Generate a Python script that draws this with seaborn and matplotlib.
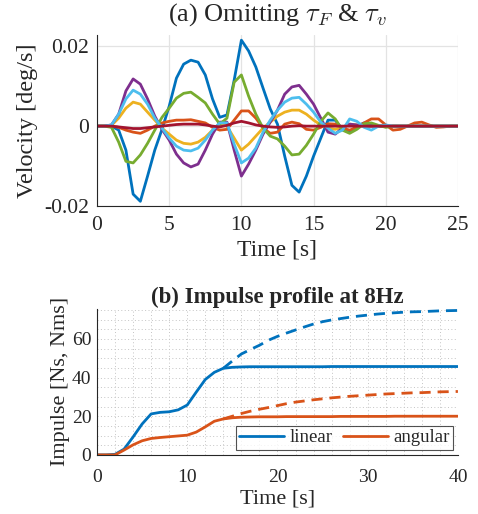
import numpy as np
import pandas as pd
import matplotlib
matplotlib.use("Agg")
import matplotlib.pyplot as plt
from matplotlib.ticker import MultipleLocator
import seaborn as sns

# ---- (a) velocity, sampled every 0.5 s from 0 to 25 s ----
t_vel = np.arange(0, 25.01, 0.5)

vel_series = {
    "blue": [0, 0, 0, -0.001, -0.006, -0.017, -0.0188, -0.0125, -0.006, -0.0008,
             0.005, 0.012, 0.0155, 0.0165, 0.016, 0.0128, 0.0068, 0.0022, 0.0028, 0.0115,
             0.0215, 0.0188, 0.0148, 0.0095, 0.0043, 0.0005, -0.0075, -0.0148, -0.0165, -0.0125,
             -0.0075, -0.003, 0.0015, 0.0015, -0.0008, -0.0015, 0.0, 0.0008, 0.0003, 0,
             0, 0, 0, 0, 0, 0, 0, 0, 0, 0, 0],
    "orange": [0, 0, 0, -0.0003, -0.001, -0.0015, -0.0018, -0.001, 0.0, 0.0008,
               0.0012, 0.0015, 0.0015, 0.0016, 0.0012, 0.0008, -0.0003, -0.001, -0.0008, 0.0015,
               0.0038, 0.0038, 0.002, -0.0005, -0.0018, -0.0015, 0.0005, 0.001, 0.0006, -0.0008,
               -0.001, -0.0003, 0.0006, 0.0005, -0.0005, -0.001, -0.0003, 0.0008, 0.0018, 0.0018,
               0.0003, -0.001, -0.0008, 0.0, 0.0008, 0.001, 0.0003, -0.0003, -0.0002, 0, 0],
    "yellow": [0, 0, 0.0002, 0.002, 0.0045, 0.006, 0.0055, 0.0035, 0.0015, -0.0005,
               -0.002, -0.0035, -0.0043, -0.0045, -0.004, -0.0028, -0.001, 0.0003, 0.0, -0.003,
               -0.006, -0.0045, -0.0025, -0.0005, 0.001, 0.0025, 0.0035, 0.004, 0.004, 0.003,
               0.0015, 0.0003, -0.0005, -0.0008, -0.0003, 0.0005, 0.0003, 0, 0, 0,
               0, 0, 0, 0, 0, 0, 0, 0, 0, 0, 0],
    "purple": [0, 0, 0.0003, 0.003, 0.0088, 0.0118, 0.0105, 0.0068, 0.0025, -0.0008,
               -0.0035, -0.007, -0.0092, -0.0102, -0.0095, -0.006, -0.002, 0.001, 0.001, -0.006,
               -0.0125, -0.0095, -0.006, -0.002, 0.001, 0.004, 0.008, 0.0098, 0.0102, 0.008,
               0.0055, 0.002, -0.0015, -0.002, -0.0005, 0.0005, 0.0003, 0, 0, 0,
               0, 0, 0, 0, 0, 0, 0, 0, 0, 0, 0],
    "green": [0, 0, -0.0003, -0.004, -0.0088, -0.0092, -0.0072, -0.0043, -0.001, 0.0022,
              0.0045, 0.007, 0.0082, 0.0085, 0.0072, 0.0058, 0.003, 0.0005, 0.002, 0.011,
              0.0128, 0.0075, 0.003, -0.0005, -0.0025, -0.0032, -0.005, -0.0072, -0.007, -0.0048,
              -0.002, 0.0012, 0.0033, 0.0018, -0.001, -0.0018, -0.0008, 0.0006, 0.0008, 0.0002,
              -0.0003, 0, 0, 0, 0, 0, 0, 0, 0, 0, 0],
    "lightblue": [0, 0, 0.0003, 0.003, 0.0068, 0.009, 0.008, 0.0055, 0.002, -0.0005,
                  -0.003, -0.005, -0.006, -0.0062, -0.0055, -0.0035, -0.001, 0.0008, 0.0008, -0.0045,
                  -0.0092, -0.008, -0.0055, -0.0015, 0.0015, 0.004, 0.006, 0.007, 0.0072, 0.0055,
                  0.0035, 0.001, -0.0005, -0.0018, -0.001, 0.0018, 0.0012, -0.0003, -0.001, 0.0,
                  0.0003, 0, 0, 0, 0, 0, 0, 0, 0, 0, 0],
    "darkred": [0, 0, 0, -0.0002, -0.0004, -0.0006, -0.0006, -0.0004, -0.0002, 0.0,
                0.0002, 0.0004, 0.0005, 0.0005, 0.0005, 0.0003, 0.0, -0.0002, 0.0002, 0.0008,
                0.0012, 0.0008, 0.0003, 0.0, -0.0002, -0.0003, -0.0002, 0, 0.0001, 0,
                0, 0, 0, 0, 0, 0, 0, 0, 0, 0,
                0, 0, 0, 0, 0, 0, 0, 0, 0, 0, 0],
}
vel_colors = {
    "blue": "#0072BD", "orange": "#D95319", "yellow": "#EDB120", "purple": "#7E2F8E",
    "green": "#77AC30", "lightblue": "#4DBEEE", "darkred": "#A2142F",
}

# ---- (b) impulse, sampled every 1 s ----
t_imp = np.arange(0, 41, 1)
linear_solid = [0, 0, 0.3, 3, 9.3, 16, 21.2, 22, 22.3, 23.3,
                25.8, 32.5, 39, 42.7, 44.8, 45.3, 45.5, 45.6, 45.6, 45.6,
                45.6, 45.6, 45.6, 45.6, 45.6, 45.6, 45.7, 45.7, 45.7, 45.7,
                45.7, 45.7, 45.7, 45.7, 45.7, 45.7, 45.7, 45.7, 45.7, 45.7, 45.7]
angular_solid = [0, 0, 0, 2.5, 5.2, 7.3, 8.5, 9, 9.4, 9.8,
                 10.2, 11.8, 14.5, 17.4, 18.6, 19.2, 19.5, 19.6, 19.7, 19.7,
                 19.7, 19.8, 19.8, 19.8, 19.8, 19.8, 19.8, 19.9, 19.9, 19.9,
                 19.9, 19.9, 19.9, 20, 20, 20, 20, 20, 20, 20, 20]
t_dash = np.arange(14, 41, 1)
linear_dash = [44.8, 48.6, 52.2, 54.5, 56.7, 59.3, 61.3, 63, 64.6, 66.2,
               67.7, 68.9, 69.8, 70.5, 71.2, 71.8, 72.3, 72.8, 73.2, 73.5,
               73.8, 74, 74.1, 74.3, 74.5, 74.6, 74.7]
angular_dash = [18.6, 20, 21.4, 22.6, 23.6, 24.5, 25.5, 26.5, 27.3, 27.9,
                28.5, 29, 29.5, 29.9, 30.3, 30.6, 30.9, 31.2, 31.5, 31.7,
                31.9, 32.1, 32.2, 32.4, 32.6, 32.7, 32.8]


def main() -> None:
    sns.set_theme(style="white")
    plt.rcParams["font.family"] = ["Liberation Serif", "DejaVu Serif"]
    plt.rcParams["mathtext.fontset"] = "cm"
    plt.rcParams["xtick.direction"] = "in"
    plt.rcParams["ytick.direction"] = "in"

    fig = plt.figure(figsize=(4.78, 5.14), dpi=100)
    ax1 = fig.add_axes([0.203, 0.599, 0.755, 0.333])
    ax2 = fig.add_axes([0.203, 0.115, 0.755, 0.284])

    # (a)
    vel_df = pd.DataFrame(
        [(t, v, k) for k, vals in vel_series.items() for t, v in zip(t_vel, vals)],
        columns=["time", "velocity", "series"],
    )
    sns.lineplot(data=vel_df, x="time", y="velocity", hue="series",
                 hue_order=list(vel_series), palette=vel_colors,
                 linewidth=2.0, legend=False, ax=ax1)
    ax1.set_xlim(0, 25)
    ax1.set_ylim(-0.02, 0.0228)
    ax1.set_xticks([0, 5, 10, 15, 20, 25])
    ax1.set_yticks([-0.02, 0, 0.02])
    ax1.set_yticklabels(["-0.02", "0", "0.02"])
    ax1.grid(True, color="#e3e3e3", linewidth=0.9)
    ax1.set_xlabel("Time [s]", fontsize=17, labelpad=3)
    ax1.set_ylabel("Velocity [deg/s]", fontsize=17.5, labelpad=4)
    ax1.set_title(r"(a) Omitting $\tau_F$ & $\tau_v$", fontsize=19, pad=10)
    ax1.tick_params(labelsize=15.5, length=4, width=0.8, color="#262626", pad=6)
    ax1.tick_params(axis="x", pad=7)

    # (b)
    sns.lineplot(x=t_imp, y=linear_solid, color="#0072BD", linewidth=2.0, ax=ax2, label="linear")
    sns.lineplot(x=t_imp, y=angular_solid, color="#D95319", linewidth=2.0, ax=ax2, label="angular")
    sns.lineplot(x=t_dash, y=linear_dash, color="#0072BD", linewidth=2.0, ax=ax2)
    sns.lineplot(x=t_dash, y=angular_dash, color="#D95319", linewidth=2.0, ax=ax2)
    ax2.lines[2].set_linestyle((0, (4, 2.5)))
    ax2.lines[3].set_linestyle((0, (4, 2.5)))
    ax2.set_xlim(0, 40)
    ax2.set_ylim(0, 75.5)
    ax2.set_xticks([0, 10, 20, 30, 40])
    ax2.set_yticks([0, 20, 40, 60])
    ax2.xaxis.set_minor_locator(MultipleLocator(2))
    ax2.yaxis.set_minor_locator(MultipleLocator(5))
    ax2.grid(True, which="both", color="#c4c4c4", linestyle=(0, (1, 2.5)), linewidth=0.7)
    ax2.set_xlabel("Time [s]", fontsize=16, labelpad=3)
    ax2.set_ylabel("Impulse [Ns, Nms]", fontsize=16, labelpad=1)
    ax2.set_title("(b) Impulse profile at 8Hz", fontsize=16.5, fontweight="bold", pad=4)
    ax2.tick_params(labelsize=14, length=4, width=0.8, color="#262626", pad=10)
    ax2.tick_params(axis="y", pad=4)
    ax2.tick_params(which="minor", length=0)
    leg = ax2.legend(loc="lower right", ncol=2, fontsize=13.5, frameon=True, fancybox=False,
                     handlelength=2.4, handletextpad=0.25, columnspacing=0.6,
                     borderpad=0.2, borderaxespad=0.25)
    leg.get_frame().set_edgecolor("#262626")
    leg.get_frame().set_linewidth(0.8)

    for ax in (ax1, ax2):
        sns.despine(ax=ax)
        for side in ("left", "bottom"):
            ax.spines[side].set_color("#262626")
            ax.spines[side].set_linewidth(0.8)

    fig.savefig("out.png", dpi=100)
    plt.close(fig)


if __name__ == "__main__":
    main()
